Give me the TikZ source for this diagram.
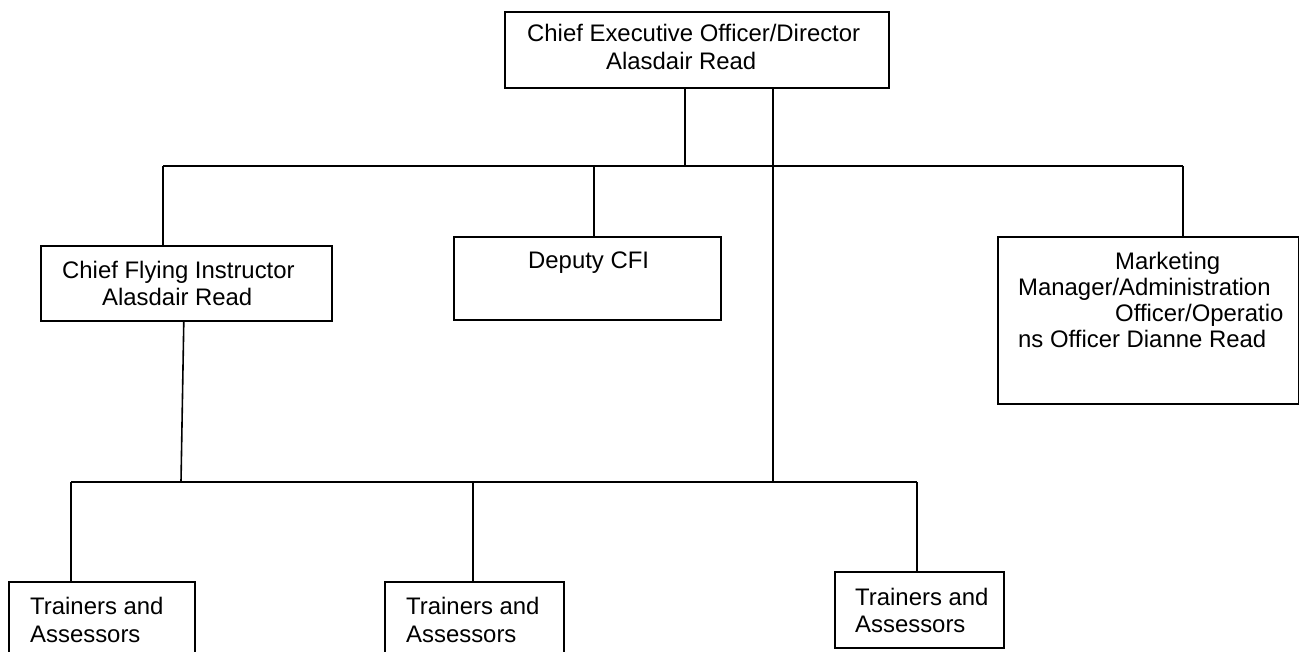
\documentclass[tikz,border=0pt]{standalone}
\usepackage{fontspec}
\setmainfont{Liberation Sans}
\begin{document}
\begin{tikzpicture}[x=1pt,y=-1pt,
  box/.style={draw=black,line width=1.6pt,rectangle,inner sep=0pt,anchor=north west,fill=white},
  lbl/.style={anchor=base west,inner sep=0pt,font=\fontsize{23.9}{28}\selectfont},
  conn/.style={draw=black,line width=1.6pt}]
\useasboundingbox (0,0) rectangle (1299,652);
% boxes
\node[box,minimum width=384pt,minimum height=76pt] (top) at (504,11) {};
\node[box,minimum width=291pt,minimum height=75pt] (cfi) at (40,245) {};
\node[box,minimum width=267pt,minimum height=83pt] (dep) at (453,236) {};
\node[box,minimum width=300.5pt,minimum height=167pt] (mkt) at (997,236) {};
\node[box,minimum width=186pt,minimum height=110pt] (t1) at (8,581) {};
\node[box,minimum width=179pt,minimum height=110pt] (t2) at (384,581) {};
\node[box,minimum width=169pt,minimum height=76pt] (t3) at (834,571) {};
% texts
\node[lbl] (topa) at (527,42) {Chief Executive Officer/Director};
\node[lbl] (topb) at (606,70) {Alasdair Read};
\node[lbl] (cfia) at (62,279) {Chief Flying Instructor};
\node[lbl] (cfib) at (102,306) {Alasdair Read};
\node[lbl] (depa) at (528,269) {Deputy CFI};
\node[lbl] (mkta) at (1115,270) {Marketing};
\node[lbl] (mktb) at (1018,296) {Manager/Administration};
\node[lbl] (mktc) at (1115,322) {Officer/Operatio};
\node[lbl] (mktd) at (1018,348) {ns Officer Dianne Read};
\node[lbl] (t1a) at (30,614) {Trainers and};
\node[lbl] (t1b) at (30,642) {Assessors};
\node[lbl] (t2a) at (406,614) {Trainers and};
\node[lbl] (t2b) at (406,642) {Assessors};
\node[lbl] (t3a) at (855,605) {Trainers and};
\node[lbl] (t3b) at (855,632) {Assessors};
% bus coordinates
\coordinate (ub) at (685,166);
\coordinate (u1) at (163,166);
\coordinate (u2) at (594,166);
\coordinate (u4) at (1183,166);
\coordinate (v) at (773,482);
\coordinate (c1) at (181,482);
\coordinate (l1) at (71,482);
\coordinate (l2) at (473,482);
\coordinate (l3) at (917,482);
% connectors
\draw[conn] (top.south -| ub) -- (ub);
\draw[conn] (u1) -- (u4);
\draw[conn] (u1) -- (u1 |- cfi.north);
\draw[conn] (u2) -- (u2 |- dep.north);
\draw[conn] (u4) -- (u4 |- mkt.north);
\draw[conn] (top.south -| v) -- (v);
\draw[conn] ([xshift=-2.5pt]cfi.south) -- (c1);
\draw[conn] (l1) -- (l3);
\draw[conn] (l1) -- (l1 |- t1.north);
\draw[conn] (l2) -- (l2 |- t2.north);
\draw[conn] (l3) -- (l3 |- t3.north);
\end{tikzpicture}
\end{document}
